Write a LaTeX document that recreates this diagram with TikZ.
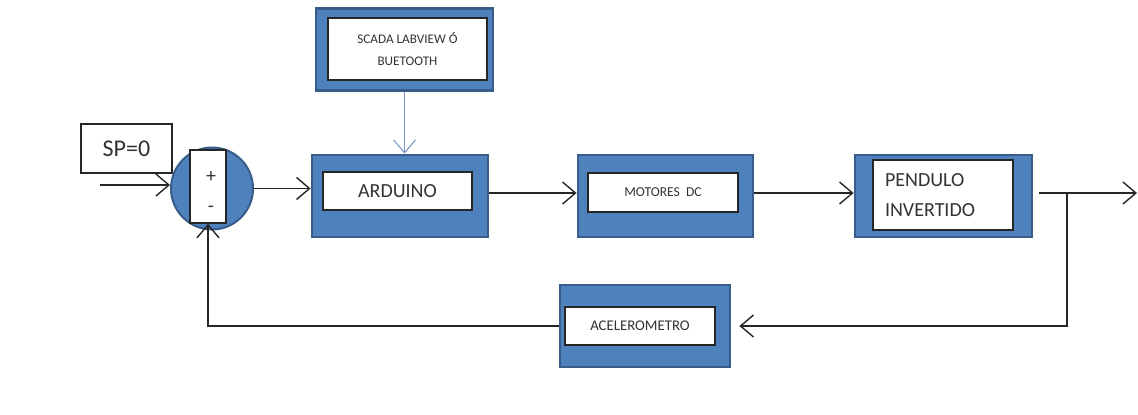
\documentclass[tikz,border=0pt]{standalone}
\usepackage{fontspec}
\setmainfont{Carlito}
\usetikzlibrary{positioning, arrows.meta}
\definecolor{blkblue}{HTML}{4F81BD}
\definecolor{blkedge}{HTML}{385D8A}
\definecolor{linkblue}{HTML}{7393C4}

\begin{document}
\begin{tikzpicture}[x=0.5pt, y=-0.5pt,
    bloque/.style={draw=blkedge, line width=1.4pt, fill=blkblue, inner sep=0pt},
    caja/.style={draw=black!85, fill=white, line width=0.7pt, inner sep=0pt, align=center, text=black!80},
    flecha/.style={draw=black!85, line width=0.7pt, -{Straight Barb[length=6.5pt, width=11pt]}}]
    % Frame
    \useasboundingbox (0,0) rectangle (1138,414);

    % Blue blocks
    \foreach \n/\x/\y/\w in {scada/404.5/49.5/88.5, ard/400/196/88, mot/665.5/196/87.5, pen/943.5/196/88.5, acel/645/326/85}
      \node[bloque, minimum width=\w pt, minimum height=41pt] (\n) at (\x,\y) {};

    % White labels inside the blocks
    \node[caja, minimum width=79.5pt, minimum height=31pt, font=\fontsize{6.6}{11}\selectfont] (scadatxt) at (407.5,49) {SCADA LABVIEW Ó\\BUETOOTH};
    \node[caja, minimum width=74.5pt, minimum height=19pt, font=\fontsize{10}{12}\selectfont] (ardtxt) at (397.5,191) {ARDUINO};
    \node[caja, minimum width=75pt, minimum height=19.5pt, font=\fontsize{6.8}{8}\selectfont] (mottxt) at (663,192.5) {MOTORES\ \ DC};
    \node[caja, minimum width=70pt, minimum height=35pt, text width=58pt, align=left, font=\fontsize{10}{15}\selectfont] (pentxt) at (943,195) {PENDULO\\INVERTIDO};
    \node[caja, minimum width=75pt, minimum height=19pt, font=\fontsize{7.4}{9}\selectfont] (aceltxt) at (640,326) {ACELEROMETRO};

    % Summing point and set point
    \node[circle, draw=blkedge, fill=blkblue, line width=1pt, minimum size=41pt, inner sep=0pt] (sum) at (212,188.5) {};
    \node[caja, minimum width=18pt, minimum height=36.5pt] (signos) at (208,186.5) {};
    \node[font=\fontsize{10}{12}\selectfont, text=black!80] (mas) at (211,177) {+};
    \node[font=\fontsize{10}{12}\selectfont, text=black!80] (menos) at (211,209) {-};
    \node[caja, minimum width=45.5pt, minimum height=24.5pt, font=\fontsize{12}{14}\selectfont] (sp) at (126.5,148.5) {SP=0};

    % Signal path
    \coordinate (entrada) at (100,185);
    \coordinate (rama) at (1067,193);
    \coordinate (salida) at (1137,193);
    \draw[flecha] (entrada) -- (entrada -| sum.west);
    \draw[flecha] (sum.east) -- (sum.east -| ard.west);
    \draw[flecha] (ard.east |- rama) -- (mot.west |- rama);
    \draw[flecha] (mot.east |- rama) -- (pen.west |- rama);
    \draw[flecha, shorten <=3pt] (pen.east |- rama) -- (salida);
    \draw[flecha, linkblue, line width=0.5pt] (scada.south) -- (scada.south |- ard.north);

    % Feedback
    \draw[flecha, shorten >=4pt] (rama) -- (rama |- acel.east) -- (acel.east);
    \draw[flecha] (acel.west) -- (acel.west -| signos.south) -- (signos.south);
  \end{tikzpicture}
\end{document}
